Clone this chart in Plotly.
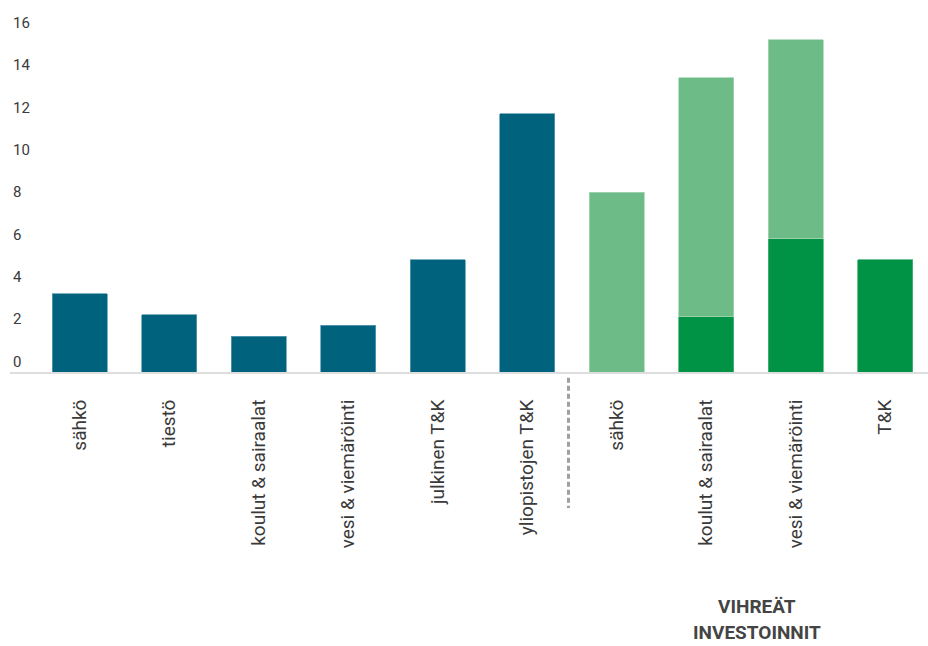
import plotly.graph_objects as go

categories = ["sähkö", "tiestö", "koulut & sairaalat", "vesi & viemäröinti",
              "julkinen T&K", "yliopistojen T&K",
              "sähkö", "koulut & sairaalat", "vesi & viemäröinti", "T&K"]
blue_values = [3.7, 2.7, 1.7, 2.2, 5.3, 12.2, None, None, None, None]
dark_green_values = [None, None, None, None, None, None, None, 2.6, 6.3, 5.3]
light_green_values = [None, None, None, None, None, None, 8.5, 11.3, 9.4, None]
y_ticks = [0, 2, 4, 6, 8, 10, 12, 14, 16]
group_label = ["VIHREÄT", "INVESTOINNIT"]

x = list(range(len(categories)))
FONT = "Roboto, Arial, sans-serif"

fig = go.Figure()
fig.add_bar(x=x, y=blue_values, marker=dict(color="#00627D", line=dict(color="#5e9fb3", width=0.8)))
fig.add_bar(x=x, y=dark_green_values, marker=dict(color="#009245", line=dict(color="#4cb37a", width=0.8)))
fig.add_bar(x=x, y=light_green_values, marker=dict(color="#6DBB87", line=dict(color="#a6d6b4", width=0.8)))

fig.update_layout(
    barmode="stack",
    bargap=0.385,
    width=928, height=646,
    margin=dict(l=10, r=0, t=12, b=274),
    plot_bgcolor="white", paper_bgcolor="white",
    showlegend=False,
    font=dict(family=FONT, color="#333333"),
    xaxis=dict(
        range=[-0.78, 9.477],
        tickmode="array", tickvals=x, ticktext=categories,
        tickangle=-90,
        tickfont=dict(size=19, color="#3a3a3a", family=FONT),
        ticks="outside", ticklen=18, tickcolor="rgba(0,0,0,0)",
        showline=True, linecolor="#dddddd", linewidth=2,
        showgrid=False, zeroline=False,
    ),
    yaxis=dict(
        range=[0, 17],
        tickmode="array", tickvals=y_ticks,
        ticklabelposition="inside top",
        tickfont=dict(size=15, color="#3a3a3a", family=FONT),
        showgrid=False, zeroline=False, showline=False,
    ),
)

fig.add_shape(type="line", xref="x", yref="paper",
              x0=5.46, x1=5.46, y0=-0.016, y1=-0.378,
              line=dict(color="#a0a0a0", width=3, dash="5px,3px"))

for txt, ypx in zip(group_label, [606, 632]):
    fig.add_annotation(x=7.57, xref="x", y=-(ypx - 372) / 360, yref="paper",
                       text="<b>" + txt + "</b>", showarrow=False,
                       font=dict(size=19, color="#444444", family=FONT),
                       xanchor="center", yanchor="middle")

fig.write_html("out.html")
